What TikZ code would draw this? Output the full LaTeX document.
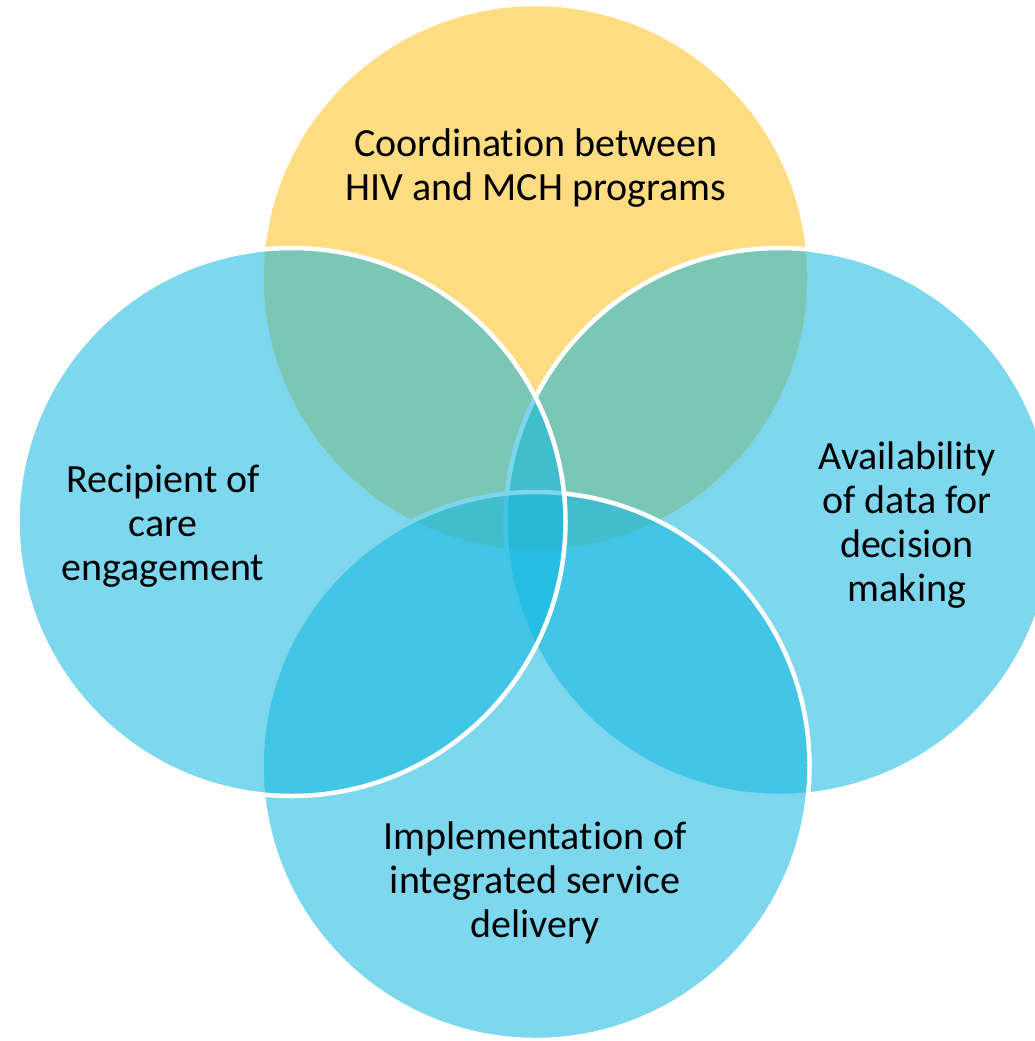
\documentclass[tikz,border=0pt]{standalone}
\usepackage{fontspec}
\setmainfont[Ligatures=NoCommon]{Carlito}
\begin{document}
\begin{tikzpicture}[x=1pt,y=-1pt,
  ring/.style={circle, minimum size=548pt, inner sep=0pt,
    fill opacity=0.55, draw=white, draw opacity=1, line width=4.5pt},
  yellowring/.style={ring, fill=ringyellow},
  bluering/.style={ring, fill=ringblue},
  label/.style={align=center, text=black, inner sep=0pt,
    font=\fontsize{40}{44}\selectfont}]
  \definecolor{ringyellow}{RGB}{251,191,28}
  \definecolor{ringblue}{RGB}{19,182,224}
  \useasboundingbox (0,0) rectangle (1035,1041);
  \clip (0,0) rectangle (1035,1041);
  % four overlapping circles, later ones painted over earlier ones
  \node[yellowring] (top)    at (535.5,278) {};
  \node[bluering]   (right)  at (779.5,522) {};
  \node[bluering]   (bottom) at (535.5,766) {};
  \node[bluering]   (left)   at (291.5,522) {};
  % labels
  \node[label] (ttop)    at (536,168) {Coordination between\\HIV and MCH programs};
  \node[label] (tleft)   at (163,526) {Recipient of\\care\\engagement};
  \node[label] (tright)  at (907,525) {Availability\\of data for\\decision\\making};
  \node[label] (tbottom) at (535,883) {Implementation of\\integrated service\\delivery};
\end{tikzpicture}
\end{document}
